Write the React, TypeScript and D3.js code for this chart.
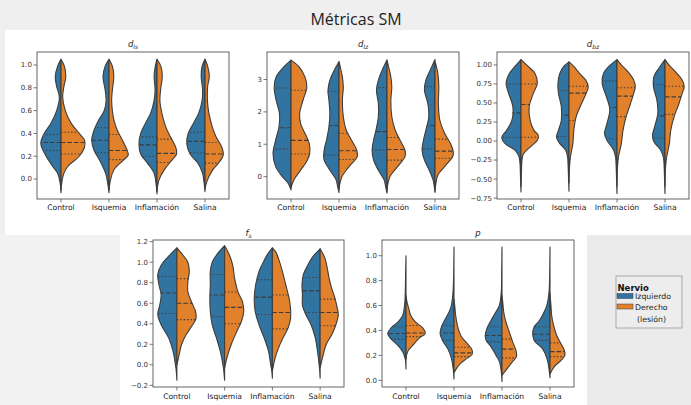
import React from 'react';
import * as d3 from 'd3';

type Prof = [number, number][];
type Q = [number, number, number];

const categories = ['Control', 'Isquemia', 'Inflamación', 'Salina'];
const seriesNames = ['Izquierdo', 'Derecho', '(lesión)'];
const colors = ['#3274a1', '#e1812c'];

// ---- d_ls : [value, half-width (fraction of category spacing)] ----
const dlsIzq: Prof[] = [
  [[-0.12,0],[-0.03,0.02],[0.05,0.07],[0.11,0.17],[0.2,0.31],[0.31,0.42],[0.4,0.35],[0.49,0.21],[0.6,0.09],[0.72,0.035],[0.81,0.09],[0.9,0.12],[0.99,0.07],[1.05,0]],
  [[-0.12,0],[-0.03,0.03],[0.05,0.07],[0.17,0.2],[0.25,0.31],[0.34,0.36],[0.43,0.31],[0.52,0.21],[0.6,0.1],[0.69,0.06],[0.78,0.08],[0.9,0.125],[0.99,0.08],[1.05,0]],
  [[-0.13,0],[-0.04,0.02],[0.05,0.06],[0.14,0.2],[0.22,0.34],[0.31,0.375],[0.4,0.34],[0.49,0.24],[0.58,0.13],[0.69,0.06],[0.78,0.04],[0.9,0.06],[0.98,0.04],[1.05,0]],
  [[-0.11,0],[-0.03,0.02],[0.05,0.05],[0.14,0.15],[0.22,0.31],[0.31,0.38],[0.4,0.35],[0.49,0.24],[0.58,0.13],[0.69,0.06],[0.78,0.05],[0.9,0.08],[0.99,0.06],[1.05,0]],
];
const dlsDer: Prof[] = [
  [[-0.1,0],[-0.02,0.02],[0.05,0.06],[0.11,0.14],[0.2,0.38],[0.28,0.49],[0.34,0.49],[0.4,0.38],[0.49,0.21],[0.6,0.09],[0.72,0.035],[0.81,0.06],[0.9,0.1],[0.99,0.07],[1.05,0]],
  [[-0.1,0],[-0.01,0.03],[0.08,0.1],[0.17,0.31],[0.21,0.4],[0.25,0.38],[0.34,0.28],[0.43,0.17],[0.52,0.1],[0.6,0.07],[0.69,0.055],[0.78,0.07],[0.9,0.1],[0.99,0.07],[1.05,0]],
  [[-0.11,0],[-0.01,0.04],[0.08,0.15],[0.17,0.32],[0.22,0.41],[0.28,0.39],[0.37,0.28],[0.46,0.18],[0.58,0.1],[0.69,0.06],[0.8,0.08],[0.9,0.11],[0.99,0.08],[1.05,0]],
  [[-0.09,0],[-0.02,0.04],[0.08,0.16],[0.15,0.3],[0.21,0.38],[0.28,0.35],[0.37,0.23],[0.46,0.15],[0.58,0.08],[0.69,0.05],[0.81,0.055],[0.9,0.09],[0.99,0.055],[1.05,0]],
];
const dlsQIzq: Q[] = [[0.25,0.32,0.39],[0.23,0.34,0.45],[0.2,0.3,0.37],[0.23,0.33,0.41]];
const dlsQDer: Q[] = [[0.22,0.32,0.41],[0.17,0.25,0.39],[0.145,0.225,0.35],[0.14,0.22,0.32]];
const dlsTicks = [0, 0.2, 0.4, 0.6, 0.8, 1.0];

// ---- d_lz ----
const dlzIzq: Prof[] = [
  [[-0.41,0],[-0.2,0.06],[0,0.18],[0.31,0.32],[0.72,0.375],[1.13,0.32],[1.54,0.25],[1.95,0.24],[2.36,0.31],[2.77,0.35],[3.08,0.31],[3.39,0.15],[3.6,0]],
  [[-0.49,0],[-0.3,0.03],[-0.1,0.06],[0.2,0.19],[0.51,0.31],[0.82,0.31],[1.13,0.26],[1.54,0.21],[1.95,0.19],[2.36,0.21],[2.67,0.23],[2.98,0.19],[3.29,0.1],[3.55,0]],
  [[-0.51,0],[-0.3,0.03],[-0.1,0.06],[0.2,0.18],[0.51,0.28],[0.82,0.31],[1.13,0.28],[1.44,0.23],[1.85,0.18],[2.26,0.18],[2.67,0.22],[2.98,0.18],[3.29,0.1],[3.6,0]],
  [[-0.49,0],[-0.25,0.02],[-0.1,0.04],[0.2,0.12],[0.51,0.22],[0.82,0.27],[1.13,0.24],[1.44,0.19],[1.85,0.13],[2.26,0.15],[2.67,0.22],[2.98,0.19],[3.29,0.1],[3.62,0]],
];
const dlzDer: Prof[] = [
  [[-0.35,0],[-0.1,0.06],[0.2,0.2],[0.51,0.34],[0.72,0.39],[1.03,0.38],[1.34,0.29],[1.64,0.2],[1.95,0.18],[2.36,0.25],[2.77,0.33],[3.08,0.29],[3.39,0.17],[3.6,0]],
  [[-0.4,0],[-0.2,0.02],[0,0.06],[0.31,0.21],[0.62,0.38],[0.82,0.37],[1.13,0.26],[1.44,0.15],[1.85,0.09],[2.36,0.07],[2.77,0.09],[3.08,0.07],[3.3,0.04],[3.55,0]],
  [[-0.45,0],[-0.2,0.02],[0,0.06],[0.31,0.22],[0.62,0.375],[0.82,0.375],[1.13,0.27],[1.44,0.17],[1.85,0.1],[2.36,0.08],[2.77,0.1],[3.08,0.08],[3.35,0.04],[3.6,0]],
  [[-0.45,0],[-0.2,0.02],[0.05,0.06],[0.31,0.2],[0.62,0.37],[0.77,0.38],[1.03,0.32],[1.34,0.2],[1.75,0.1],[2.26,0.07],[2.77,0.08],[3.18,0.06],[3.4,0.03],[3.55,0]],
];
const dlzQIzq: Q[] = [[0.85,1.51,2.74],[0.67,1.58,2.64],[0.82,1.39,2.75],[0.85,1.58,2.78]];
const dlzQDer: Q[] = [[0.7,1.12,2.67],[0.53,0.8,1.34],[0.51,0.84,1.21],[0.57,0.79,1.16]];
const dlzTicks = [0, 1, 2, 3];

// ---- d_bz ----
const dbzIzq: Prof[] = [
  [[-0.67,0],[-0.45,0.012],[-0.3,0.02],[-0.21,0.04],[-0.12,0.125],[-0.035,0.33],[0.05,0.4],[0.14,0.3],[0.27,0.19],[0.45,0.17],[0.63,0.26],[0.76,0.31],[0.89,0.24],[0.98,0.125],[1.07,0]],
  [[-0.66,0],[-0.45,0.012],[-0.3,0.02],[-0.21,0.03],[-0.12,0.07],[-0.035,0.19],[0.05,0.26],[0.14,0.22],[0.27,0.16],[0.45,0.16],[0.63,0.22],[0.76,0.23],[0.89,0.19],[0.98,0.11],[1.04,0]],
  [[-0.69,0],[-0.45,0.012],[-0.3,0.02],[-0.21,0.03],[-0.12,0.07],[0.01,0.21],[0.1,0.26],[0.23,0.21],[0.41,0.15],[0.58,0.22],[0.76,0.31],[0.89,0.28],[0.98,0.17],[1.07,0]],
  [[-0.69,0],[-0.45,0.012],[-0.3,0.02],[-0.21,0.035],[-0.12,0.09],[-0.01,0.23],[0.075,0.26],[0.18,0.22],[0.36,0.15],[0.54,0.17],[0.71,0.24],[0.85,0.23],[0.96,0.125],[1.07,0]],
];
const dbzDer: Prof[] = [
  [[-0.6,0],[-0.4,0.01],[-0.25,0.02],[-0.17,0.05],[-0.08,0.19],[0.01,0.34],[0.075,0.36],[0.14,0.27],[0.27,0.19],[0.45,0.17],[0.63,0.26],[0.76,0.34],[0.89,0.29],[0.98,0.15],[1.07,0]],
  [[-0.55,0],[-0.35,0.01],[-0.21,0.03],[-0.035,0.08],[0.14,0.1],[0.32,0.15],[0.49,0.26],[0.63,0.36],[0.71,0.4],[0.8,0.35],[0.89,0.22],[0.98,0.1],[1.04,0]],
  [[-0.6,0],[-0.35,0.01],[-0.21,0.03],[-0.035,0.09],[0.14,0.125],[0.32,0.19],[0.49,0.28],[0.63,0.35],[0.71,0.38],[0.8,0.35],[0.91,0.23],[1.0,0.09],[1.07,0]],
  [[-0.6,0],[-0.35,0.01],[-0.21,0.035],[-0.035,0.09],[0.14,0.12],[0.32,0.19],[0.49,0.29],[0.63,0.36],[0.71,0.4],[0.8,0.36],[0.91,0.22],[1.0,0.08],[1.07,0]],
];
const dbzQIzq: Q[] = [[0.05,0.37,0.75],[0.06,0.34,0.66],[0.03,0.44,0.79],[0.04,0.33,0.74]];
const dbzQDer: Q[] = [[0.05,0.48,0.75],[0.27,0.63,0.72],[0.32,0.59,0.7],[0.35,0.58,0.72]];
const dbzTicks = [-0.75, -0.5, -0.25, 0, 0.25, 0.5, 0.75, 1.0];

// ---- f_s ----
const fsIzq: Prof[] = [
  [[-0.15,0],[-0.05,0.015],[0,0.03],[0.13,0.08],[0.26,0.17],[0.39,0.33],[0.49,0.4],[0.58,0.36],[0.68,0.33],[0.78,0.375],[0.88,0.4],[0.97,0.33],[1.05,0.19],[1.14,0]],
  [[-0.15,0],[-0.05,0.02],[0,0.035],[0.13,0.09],[0.26,0.17],[0.39,0.26],[0.52,0.3],[0.65,0.31],[0.78,0.3],[0.91,0.3],[1.0,0.26],[1.07,0.17],[1.16,0]],
  [[-0.13,0],[-0.05,0.015],[0,0.035],[0.13,0.08],[0.26,0.17],[0.39,0.28],[0.52,0.36],[0.65,0.38],[0.78,0.35],[0.91,0.28],[1.0,0.19],[1.08,0.1],[1.14,0]],
  [[-0.13,0],[-0.05,0.01],[0,0.02],[0.13,0.055],[0.26,0.1],[0.39,0.19],[0.49,0.3],[0.58,0.37],[0.68,0.37],[0.78,0.38],[0.88,0.35],[0.97,0.26],[1.05,0.16],[1.13,0]],
];
const fsDer: Prof[] = [
  [[0.0,0],[0.07,0.035],[0.2,0.1],[0.29,0.19],[0.39,0.33],[0.45,0.4],[0.52,0.39],[0.62,0.3],[0.71,0.23],[0.81,0.23],[0.91,0.26],[1.0,0.23],[1.07,0.125],[1.14,0]],
  [[-0.03,0],[0.07,0.05],[0.2,0.14],[0.33,0.26],[0.42,0.35],[0.52,0.4],[0.62,0.37],[0.71,0.28],[0.84,0.21],[0.97,0.17],[1.07,0.1],[1.16,0]],
  [[-0.06,0],[0.07,0.06],[0.16,0.125],[0.26,0.22],[0.36,0.33],[0.45,0.38],[0.55,0.38],[0.65,0.35],[0.78,0.28],[0.91,0.21],[1.04,0.125],[1.1,0.07],[1.14,0]],
  [[-0.03,0],[0.07,0.05],[0.2,0.13],[0.29,0.24],[0.39,0.33],[0.49,0.38],[0.55,0.36],[0.65,0.31],[0.75,0.24],[0.84,0.19],[0.94,0.15],[1.04,0.1],[1.13,0]],
];
const fsQIzq: Q[] = [[0.5,0.7,0.86],[0.47,0.68,0.88],[0.49,0.66,0.83],[0.51,0.72,0.85]];
const fsQDer: Q[] = [[0.44,0.6,0.84],[0.4,0.56,0.71],[0.35,0.51,0.68],[0.38,0.51,0.64]];
const fsTicks = [-0.2, 0, 0.2, 0.4, 0.6, 0.8, 1.0, 1.2];

// ---- p ----
const pIzq: Prof[] = [
  [[0.09,0],[0.17,0.015],[0.23,0.07],[0.28,0.17],[0.34,0.33],[0.375,0.38],[0.42,0.31],[0.47,0.16],[0.52,0.07],[0.6,0.03],[0.71,0.015],[0.85,0.008],[1.0,0]],
  [[0.01,0],[0.09,0.015],[0.17,0.05],[0.25,0.125],[0.32,0.24],[0.375,0.29],[0.43,0.26],[0.5,0.17],[0.55,0.1],[0.6,0.055],[0.71,0.02],[0.85,0.007],[1.07,0]],
  [[-0.01,0],[0.07,0.015],[0.15,0.055],[0.2,0.125],[0.27,0.23],[0.32,0.33],[0.36,0.35],[0.42,0.31],[0.48,0.23],[0.55,0.125],[0.6,0.055],[0.71,0.015],[0.85,0.007],[1.07,0]],
  [[0.02,0],[0.09,0.02],[0.17,0.06],[0.25,0.15],[0.32,0.33],[0.375,0.36],[0.43,0.33],[0.48,0.22],[0.55,0.12],[0.61,0.06],[0.71,0.02],[0.85,0.007],[1.07,0]],
];
const pDer: Prof[] = [
  [[0.17,0],[0.23,0.035],[0.28,0.14],[0.34,0.28],[0.375,0.4],[0.42,0.35],[0.47,0.19],[0.52,0.1],[0.58,0.055],[0.63,0.02],[0.68,0]],
  [[0.06,0],[0.1,0.06],[0.14,0.15],[0.17,0.25],[0.21,0.38],[0.25,0.37],[0.31,0.24],[0.36,0.14],[0.44,0.07],[0.52,0.035],[0.6,0.015],[0.65,0]],
  [[0.04,0],[0.07,0.06],[0.15,0.22],[0.19,0.3],[0.24,0.29],[0.31,0.22],[0.39,0.15],[0.47,0.08],[0.55,0.035],[0.63,0.015],[0.68,0]],
  [[0.05,0],[0.11,0.09],[0.16,0.23],[0.2,0.31],[0.24,0.3],[0.3,0.22],[0.36,0.14],[0.44,0.075],[0.52,0.035],[0.6,0.02],[0.7,0]],
];
const pQIzq: Q[] = [[0.33,0.375,0.43],[0.32,0.38,0.44],[0.31,0.36,0.43],[0.32,0.37,0.43]];
const pQDer: Q[] = [[0.35,0.38,0.44],[0.19,0.22,0.265],[0.18,0.25,0.33],[0.19,0.23,0.3]];
const pTicks = [0, 0.2, 0.4, 0.6, 0.8, 1.0];

interface Panel {
  title: [string, string];
  izq: Prof[]; der: Prof[]; qIzq: Q[]; qDer: Q[];
  ticks: number[]; fmt: string; domain: [number, number];
  x0: number; x1: number; y0: number; y1: number; titleY: number; labY: number;
}

const panels: Panel[] = [
  { title: ['d', 'ls'], izq: dlsIzq, der: dlsDer, qIzq: dlsQIzq, qDer: dlsQDer, ticks: dlsTicks, fmt: '.1f', domain: [-0.175, 1.114], x0: 37, x1: 229, y0: 52, y1: 199, titleY: 47, labY: 210 },
  { title: ['d', 'lz'], izq: dlzIzq, der: dlzDer, qIzq: dlzQIzq, qDer: dlzQDer, ticks: dlzTicks, fmt: 'd', domain: [-0.69, 3.85], x0: 267, x1: 459, y0: 52, y1: 199, titleY: 47, labY: 210 },
  { title: ['d', 'bz'], izq: dbzIzq, der: dbzDer, qIzq: dbzQIzq, qDer: dbzQDer, ticks: dbzTicks, fmt: '.2f', domain: [-0.762, 1.17], x0: 497, x1: 689, y0: 52, y1: 199, titleY: 47, labY: 210 },
  { title: ['f', 's'], izq: fsIzq, der: fsDer, qIzq: fsQIzq, qDer: fsQDer, ticks: fsTicks, fmt: '.1f', domain: [-0.216, 1.216], x0: 153, x1: 344, y0: 240, y1: 387, titleY: 236, labY: 399 },
  { title: ['p', ''], izq: pIzq, der: pDer, qIzq: pQIzq, qDer: pQDer, ticks: pTicks, fmt: '.1f', domain: [-0.054, 1.126], x0: 382, x1: 574, y0: 240, y1: 387, titleY: 236, labY: 399 },
];

const EDGE = '#3d3d3d';
const FONT = 'DejaVu Sans, sans-serif';

function widthAt(prof: Prof, v: number): number {
  for (let i = 0; i < prof.length - 1; i++) {
    const [a, wa] = prof[i];
    const [b, wb] = prof[i + 1];
    if (v >= a && v <= b) return wa + ((v - a) / (b - a)) * (wb - wa);
  }
  return 0;
}

function PanelView({ p }: { p: Panel }) {
  const x = d3.scaleLinear().domain([-0.5, 3.5]).range([p.x0, p.x1]);
  const y = d3.scaleLinear().domain(p.domain).range([p.y1, p.y0]);
  const sp = x(1) - x(0);
  const fmt = d3.format(p.fmt);
  const halves: JSX.Element[] = [];
  categories.forEach((c, i) => {
    const cx = x(i);
    [p.izq[i], p.der[i]].forEach((prof, side) => {
      const sign = side === 0 ? -1 : 1;
      const area = d3.area<[number, number]>()
        .curve(d3.curveCatmullRom)
        .y(d => y(d[0]))
        .x0(() => cx)
        .x1(d => cx + sign * d[1] * sp);
      halves.push(
        <path key={`v${i}-${side}`} d={area(prof) || ''} fill={colors[side]} stroke={EDGE} strokeWidth={1.1} strokeLinejoin="round" />
      );
      const q = side === 0 ? p.qIzq[i] : p.qDer[i];
      q.forEach((v, k) => {
        const w = widthAt(prof, v) * sp;
        halves.push(
          <line key={`q${i}-${side}-${k}`} x1={cx} x2={cx + sign * w} y1={y(v)} y2={y(v)}
            stroke={EDGE} strokeWidth={1.1}
            strokeDasharray={k === 1 ? '4.5 2' : '1.4 2'} />
        );
      });
    });
  });
  return (
    <g>
      <text x={(p.x0 + p.x1) / 2} y={p.titleY} textAnchor="middle" fontFamily={FONT} fontSize={8.5} fill="#222" fontStyle="italic">
        {p.title[0]}
        {p.title[1] && <tspan fontSize={6} dy={1.5}>{p.title[1]}</tspan>}
      </text>
      {halves}
      <rect x={p.x0} y={p.y0} width={p.x1 - p.x0} height={p.y1 - p.y0} fill="none" stroke="#555" strokeWidth={0.9} />
      {p.ticks.map(t => (
        <g key={`yt${t}`}>
          <line x1={p.x0 - 3.5} x2={p.x0} y1={y(t)} y2={y(t)} stroke="#555" strokeWidth={0.8} />
          <text x={p.x0 - 5} y={y(t)} dy="0.35em" textAnchor="end" fontFamily={FONT} fontSize={7} fill="#333">{fmt(t)}</text>
        </g>
      ))}
      {categories.map((c, i) => (
        <g key={`xt${c}`}>
          <line x1={x(i)} x2={x(i)} y1={p.y1} y2={p.y1 + 3.5} stroke="#555" strokeWidth={0.8} />
          <text x={x(i)} y={p.labY} textAnchor="middle" fontFamily={FONT} fontSize={7.6} fill="#222">{c}</text>
        </g>
      ))}
    </g>
  );
}

export default function App() {
  return (
    <svg width={691} height={405} style={{ position: 'absolute', left: 0, top: 0 }}>
      <rect x={0} y={0} width={691} height={405} fill="#efefef" />
      <rect x={0} y={235} width={120} height={170} fill="#f2f2f2" />
      <rect x={587} y={235} width={104} height={170} fill="#ebebeb" />
      <rect x={5} y={30} width={686} height={205} fill="#ffffff" />
      <rect x={120} y={235} width={467} height={170} fill="#ffffff" />
      <text x={356} y={25} textAnchor="middle" fontFamily="Open Sans, sans-serif" fontSize={16} fill="#222">Métricas SM</text>
      {panels.map((p, i) => <PanelView key={i} p={p} />)}
      <g>
        <rect x={616} y={276} width={66} height={52} fill="#ededed" stroke="#999" strokeWidth={0.8} />
        <text x={617.5} y={291} fontFamily={FONT} fontSize={8.5} fontWeight="bold" fill="#111">Nervio</text>
        <rect x={617} y={293.5} width={16} height={5} fill={colors[0]} stroke={EDGE} strokeWidth={0.5} />
        <text x={635} y={299} fontFamily={FONT} fontSize={7.8} fill="#222">{seriesNames[0]}</text>
        <rect x={617} y={304} width={16} height={5} fill={colors[1]} stroke={EDGE} strokeWidth={0.5} />
        <text x={635} y={309.5} fontFamily={FONT} fontSize={7.8} fill="#222">{seriesNames[1]}</text>
        <text x={637} y={322} fontFamily={FONT} fontSize={7.8} fill="#222">{seriesNames[2]}</text>
      </g>
    </svg>
  );
}
